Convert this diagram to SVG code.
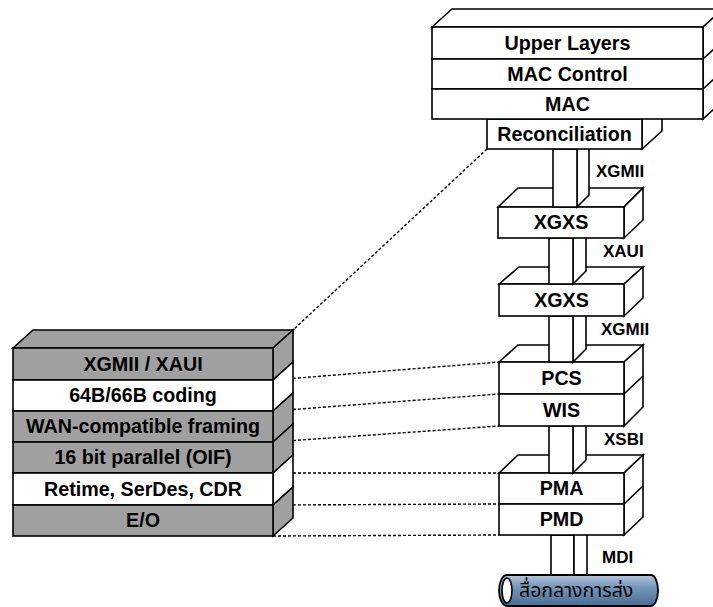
<svg xmlns="http://www.w3.org/2000/svg" width="713" height="607" viewBox="0 0 713 607">
<defs>
<linearGradient id="cab" x1="0" y1="0" x2="0" y2="1">
<stop offset="0" stop-color="#b4c7db"/>
<stop offset="0.4" stop-color="#7596ba"/>
<stop offset="1" stop-color="#4a6d94"/>
</linearGradient>
<style>
.f{fill:#fff;stroke:#000;stroke-width:1.6;stroke-linejoin:miter}
.g{fill:#a0a0a0;stroke:#000;stroke-width:1.6}
.w{fill:#fff;stroke:#000;stroke-width:1.6}
.l{fill:none;stroke:#000;stroke-width:1.6}
.t{font-family:"Liberation Sans",Arial,sans-serif;font-weight:bold;font-size:19.7px;text-anchor:middle;fill:#000}
.s{font-family:"Liberation Sans",Arial,sans-serif;font-weight:bold;font-size:17px;fill:#000}
.d{fill:none;stroke:#000;stroke-width:1.4;stroke-dasharray:3,2}
.th{font-family:"Noto Sans Thai","Tahoma","DejaVu Sans",sans-serif;font-size:19.5px;fill:#000}
</style>
</defs>

<g id="connectors">
<line class="d" x1="487" y1="149" x2="293" y2="330"/>
<line class="d" x1="273" y1="380" x2="499" y2="362"/>
<line class="d" x1="273" y1="411" x2="499" y2="394"/>
<line class="d" x1="273" y1="442" x2="499" y2="426"/>
<line class="d" x1="273" y1="473" x2="499" y2="473"/>
<line class="d" x1="273" y1="505" x2="499" y2="504"/>
<line class="d" x1="273" y1="536" x2="499" y2="535"/>
</g>

<g id="medium">
<rect class="f" x="551" y="535" width="23" height="41"/>
<polygon class="f" points="574,535 587,522 587,576 574,576"/>
<path d="M507,575 H651 A7,15.5 0 0 1 651,606 H507 A8,15.5 0 0 1 507,575 Z" fill="url(#cab)" stroke="#000" stroke-width="1.8"/>
<ellipse cx="507" cy="590.5" rx="5" ry="12.5" fill="#fff" stroke="#000" stroke-width="1.6"/>
<text class="th" x="519" y="597">สื่อกลางการส่ง</text>
</g>

<g id="pma-pmd">
<polygon class="f" points="499,473 518,455 643,455 624,473"/>
<polygon class="f" points="624,473 643,455 643,517 624,535"/>
<line class="l" x1="624" y1="504" x2="643" y2="486"/>
<rect class="f" x="499" y="473" width="125" height="31"/>
<rect class="f" x="499" y="504" width="125" height="31"/>
<text class="t" x="561.5" y="495">PMA</text>
<text class="t" x="561.5" y="526">PMD</text>
</g>

<g id="xsbi">
<polygon class="f" points="573,426 586,413 586,460 573,473"/>
<rect class="f" x="549" y="426" width="24" height="47"/>
</g>

<g id="pcs-wis">
<polygon class="f" points="499,362 518,345 643,345 624,362"/>
<polygon class="f" points="624,362 643,345 643,407 624,426"/>
<line class="l" x1="624" y1="394" x2="643" y2="376"/>
<rect class="f" x="499" y="362" width="125" height="32"/>
<rect class="f" x="499" y="394" width="125" height="32"/>
<text class="t" x="561.5" y="385">PCS</text>
<text class="t" x="561.5" y="417">WIS</text>
</g>

<g id="xgmii2">
<polygon class="f" points="573,316 586,303 586,349 573,362"/>
<rect class="f" x="549" y="316" width="24" height="46"/>
</g>

<g id="xgxs2">
<polygon class="f" points="499,284 519,267 643,267 624,284"/>
<polygon class="f" points="624,284 643,267 643,298 624,316"/>
<rect class="f" x="499" y="284" width="125" height="32"/>
<text class="t" x="561.5" y="307">XGXS</text>
</g>

<g id="xaui">
<polygon class="f" points="573,238 586,225 586,271 573,284"/>
<rect class="f" x="549" y="238" width="24" height="46"/>
</g>

<g id="xgxs1">
<polygon class="f" points="498,207 518,188 643,188 624,207"/>
<polygon class="f" points="624,207 643,188 643,220 624,238"/>
<rect class="f" x="498" y="207" width="126" height="31"/>
<text class="t" x="561" y="229">XGXS</text>
</g>

<g id="xgmii1">
<polygon class="f" points="577,149 589,137 589,195 577,207"/>
<rect class="f" x="553" y="149" width="24" height="58"/>
</g>

<g id="reconciliation">
<polygon class="f" points="642,119 662,101 662,131 642,149"/>
<rect class="f" x="487" y="119" width="155" height="30"/>
<text class="t" x="564.5" y="141">Reconciliation</text>
</g>

<g id="upper-stack">
<polygon class="f" points="432,27 452,9 725,9 703,27"/>
<polygon class="f" points="703,27 725,7 725,99 703,119"/>
<line class="l" x1="703" y1="59" x2="725" y2="39"/>
<line class="l" x1="703" y1="89" x2="725" y2="69"/>
<rect class="f" x="432" y="27" width="271" height="32"/>
<rect class="f" x="432" y="59" width="271" height="30"/>
<rect class="f" x="432" y="89" width="271" height="30"/>
<text class="t" x="567.5" y="50">Upper Layers</text>
<text class="t" x="567.5" y="81">MAC Control</text>
<text class="t" x="567.5" y="111">MAC</text>
</g>

<g id="labels">
<text class="s" x="596" y="177">XGMII</text>
<text class="s" x="603" y="257">XAUI</text>
<text class="s" x="601" y="335">XGMII</text>
<text class="s" x="604" y="445">XSBI</text>
<text class="s" x="602" y="563">MDI</text>
</g>

<g id="detail-stack">
<polygon class="g" points="13,348 33,330 293,330 273,348"/>
<polygon class="g" points="273,348 293,330 293,362 273,380"/>
<polygon class="w" points="273,380 293,362 293,393 273,411"/>
<polygon class="g" points="273,411 293,393 293,424 273,442"/>
<polygon class="g" points="273,442 293,424 293,455 273,473"/>
<polygon class="w" points="273,473 293,455 293,487 273,505"/>
<polygon class="g" points="273,505 293,487 293,518 273,536"/>
<rect class="g" x="13" y="348" width="260" height="32"/>
<rect class="w" x="13" y="380" width="260" height="31"/>
<rect class="g" x="13" y="411" width="260" height="31"/>
<rect class="g" x="13" y="442" width="260" height="31"/>
<rect class="w" x="13" y="473" width="260" height="32"/>
<rect class="g" x="13" y="505" width="260" height="31"/>
<text class="t" x="143" y="371">XGMII / XAUI</text>
<text class="t" x="143" y="402">64B/66B coding</text>
<text class="t" x="143" y="433">WAN-compatible framing</text>
<text class="t" x="143" y="464">16 bit parallel (OIF)</text>
<text class="t" x="143" y="496">Retime, SerDes, CDR</text>
<text class="t" x="143" y="527">E/O</text>
</g>
</svg>
